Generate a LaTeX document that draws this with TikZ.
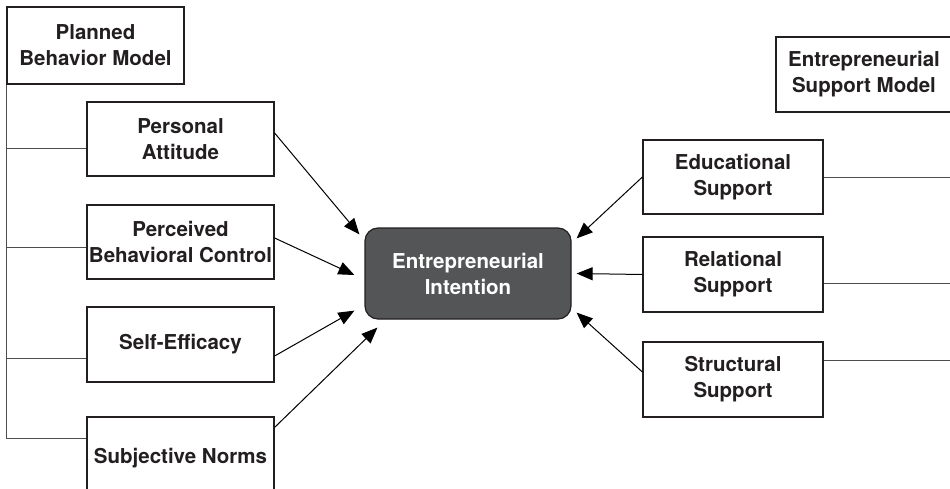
\documentclass[tikz,border=0pt]{standalone}
\usepackage{fontspec}
\setmainfont{TeX Gyre Heros}
\usepackage{xcolor}
\usetikzlibrary{arrows.meta}

\definecolor{inkgray}{HTML}{231F20}
\definecolor{boxgray}{HTML}{545557}
\definecolor{treegray}{HTML}{4D4D4F}

\tikzset{
  factor/.style={draw=inkgray, line width=1.2pt, fill=white, text=inkgray,
    align=center, inner sep=0pt, minimum width=187pt, minimum height=74pt,
    font=\fontsize{20.5}{26}\selectfont\bfseries},
  model/.style={factor, minimum width=177pt, minimum height=77pt},
  intent/.style={factor, draw=inkgray, fill=boxgray, text=white,
    rounded corners=13pt, minimum width=206pt, minimum height=91pt},
  tree/.style={draw=treegray, line width=0.9pt},
  link/.style={draw=black, line width=1pt, -{Triangle[length=16pt,width=13pt]}}
}

\begin{document}
\begin{tikzpicture}[x=1pt, y=-1pt]
    \clip (0,0) rectangle (950,489);
    \fill[white] (0,0) rectangle (950,489);

    % Planned behavior side
    \node[model] (pbm) at (95.5,45.5) {Planned\\Behavior Model};
    \node[factor] (pa) at (180.5,139) {Personal\\Attitude};
    \node[factor] (pbc) at (180.5,242) {Perceived\\Behavioral Control};
    \node[factor, minimum height=75pt] (se) at (180.5,344.5) {Self-Efficacy};
    \node[factor, minimum height=82pt] (sn) at (180.5,458) {Subjective Norms};

    \draw[tree] (pbm.south west) |- ([yshift=-9pt]pa.west);
    \draw[tree] (pbm.south west) |- ([yshift=-5pt]pbc.west);
    \draw[tree] (pbm.south west) |- ([yshift=-13.5pt]se.west);
    \draw[tree] (pbm.south west) |- ([yshift=20pt]sn.west);

    % Intention
    \node[intent] (ei) at (468,273.5) {Entrepreneurial\\Intention};

    % Entrepreneurial support side
    \node[model, minimum width=176pt, minimum height=75pt] (esm) at (864,74.5) {Entrepreneurial\\Support Model};
    \node[factor, minimum width=180pt] (es) at (733,177) {Educational\\Support};
    \node[factor, minimum width=180pt, minimum height=75pt] (rs) at (733,274.5) {Relational\\Support};
    \node[factor, minimum width=180pt, minimum height=75pt] (ss) at (733,379.5) {Structural\\Support};

    \coordinate (edge) at (960,0);
    \draw[tree] (es.east) -- (es.east -| edge);
    \draw[tree] ([yshift=-8.5pt]rs.east) -- ([yshift=-8.5pt]rs.east -| edge);
    \draw[tree] ([yshift=19.5pt]ss.east) -- ([yshift=19.5pt]ss.east -| edge);

    % Arrows
    \draw[link] ([yshift=6pt]pa.east) -- ([shift={(-5pt,-7pt)}]ei.north west);
    \draw[link] ([yshift=4pt]pbc.east) -- ([shift={(-10pt,-1.5pt)}]ei.west);
    \draw[link] ([yshift=-11.5pt]se.east) -- ([shift={(-10pt,9pt)}]ei.south west);
    \draw[link] ([yshift=-11pt]sn.north east) -- ([shift={(13pt,-8pt)}]ei.south west);
    \draw[link] (es.west) -- ([shift={(5pt,-11pt)}]ei.north east);
    \draw[link] (rs.west) -- ([xshift=5pt]ei.east);
    \draw[link] ([yshift=7.5pt]ss.west) -- ([shift={(5pt,7pt)}]ei.south east);
\end{tikzpicture}
\end{document}
